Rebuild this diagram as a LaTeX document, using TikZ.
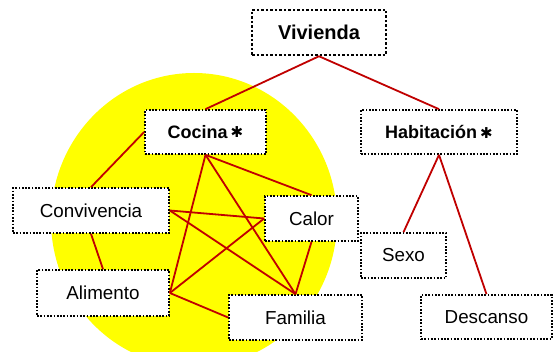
\documentclass[tikz,border=0pt]{standalone}
\usepackage{fontspec}
\setmainfont{Liberation Sans}
\newfontfamily\symfont{DejaVu Sans}
\definecolor{linkred}{RGB}{192,0,0}
\definecolor{blobyellow}{RGB}{255,255,0}
\newcommand{\starmark}{\,{\symfont\fontsize{15}{16}\selectfont\raisebox{0.5pt}{✱}}}
\begin{document}
\begin{tikzpicture}[x=1pt,y=-1pt,
  box/.style={draw=black, fill=white, line width=1.7pt, dash pattern=on 1.7pt off 1.6pt,
    inner sep=0pt, font=\fontsize{18.8}{22}\selectfont},
  topbox/.style={box, line width=2.5pt, dash pattern=on 2.5pt off 2pt,
    font=\fontsize{20}{24}\selectfont\bfseries},
  midbox/.style={box, font=\fontsize{18}{22}\selectfont\bfseries},
  link/.style={draw=linkred, line width=1.8pt}]
\useasboundingbox (0,0) rectangle (553,352);
\fill[blobyellow] (194,220) ellipse [x radius=143, y radius=147];

\node[topbox, minimum width=134pt, minimum height=45pt] (viv) at (319,32.5) {Vivienda};
\node[midbox, minimum width=121pt, minimum height=44pt] (coc) at (205.5,132) {Cocina\starmark};
\node[midbox, minimum width=156pt, minimum height=44pt] (hab) at (439,132) {Habitación\starmark};
\node[box, minimum width=156pt, minimum height=45pt] (con) at (91,210.5) {Convivencia};
\node[box, minimum width=93pt, minimum height=45pt] (cal) at (311.5,218.5) {Calor};
\node[box, minimum width=132pt, minimum height=46pt] (ali) at (103,293) {Alimento};
\node[box, minimum width=133pt, minimum height=45pt] (fam) at (295.5,317.5) {Familia};
\node[box, minimum width=85pt, minimum height=45pt] (sex) at (403.5,255.5) {Sexo};
\node[box, minimum width=131pt, minimum height=44pt] (des) at (486.5,317) {Descanso};

\draw[link] (viv.south) -- (coc.north);
\draw[link] (viv.south) -- (hab.north);
\draw[link] (coc.west) -- (con.north);
\draw[link] (coc.south) -- (ali.east);
\draw[link] (coc.south) -- (fam.north);
\draw[link] (coc.south) -- (cal.north);
\draw[link] (con.east) -- (cal.west);
\draw[link] (con.east) -- (fam.north);
\draw[link] (con.south) -- (ali.north);
\draw[link] (ali.east) -- (cal.west);
\draw[link] (ali.east) -- (fam.west);
\draw[link] (cal.south) -- (fam.north);
\draw[link] (hab.south) -- (sex.north);
\draw[link] (hab.south) -- (des.north);
\end{tikzpicture}
\end{document}
